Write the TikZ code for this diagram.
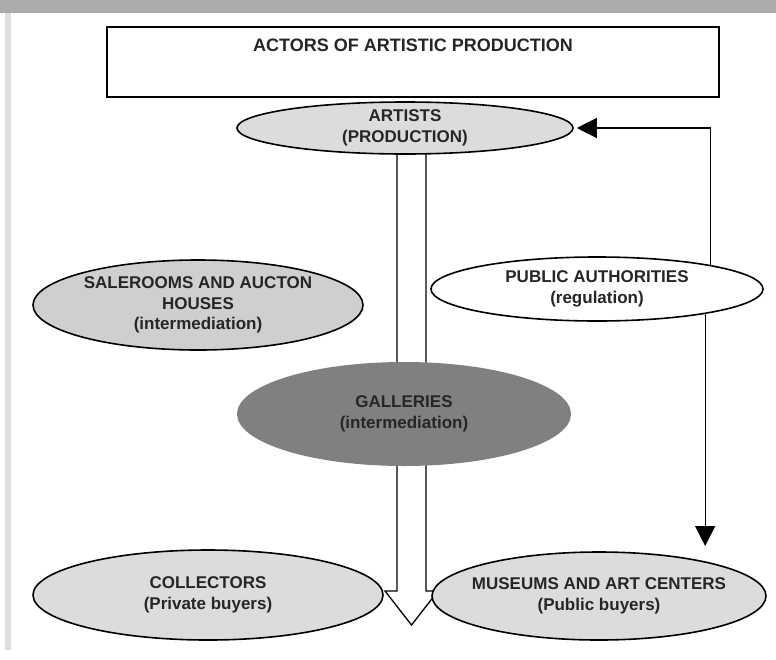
\documentclass[tikz,border=0pt]{standalone}
\usepackage{fontspec}
\setmainfont{Liberation Sans}
\usepackage{tikz}
\usetikzlibrary{arrows.meta,shapes.geometric,positioning,calc}
\definecolor{barGray}{HTML}{ABABAB}
\definecolor{sideGray}{HTML}{DEDEDE}
\definecolor{lightFill}{HTML}{DCDCDC}
\definecolor{saleFill}{HTML}{CFCFCF}
\definecolor{darkFill}{HTML}{808080}
\definecolor{txtGray}{HTML}{262626}
\tikzset{
  actor/.style={
     ellipse,
     draw=black,
     line width=1.6pt,
     fill=lightFill,
     text=txtGray,
     align=center,
     inner xsep=-200pt, inner ysep=-60pt,% size comes from minimum width/height only
     font=\bfseries\fontsize{17}{20.5}\selectfont
  },
  flow/.style={
     line width=1.3pt,
     -{Triangle[length=20pt,width=20pt]}
  },
}
\begin{document}
\begin{tikzpicture}[x=1pt,y=-1pt]
        \useasboundingbox (0,0) rectangle (776,659);
        % Page frame
        \fill[white] (0,0) rectangle (776,659);
        \fill[barGray] (0,0) rectangle (776,13);
        \fill[sideGray] (5,13) rectangle (11,650);

        % Title box
        \draw[line width=1.5pt] (107,97) -- (107,27) -- (719,27) -- (719,97);
        \draw[line width=2.5pt] (106,97) -- (720,97);
        \node[font=\bfseries\fontsize{18}{20}\selectfont, text=txtGray] (title) at (413,45) {ACTORS OF ARTISTIC PRODUCTION};

        % Hollow arrow through the galleries
        \coordinate (shaftL) at (397,140);
        \coordinate (shaftR) at (426,140);
        \coordinate (tip) at (411.5,625);
        \filldraw[fill=white, line width=1.3pt, line join=miter]
           (shaftL) -- (397,591) -- (385,591) -- (tip) -- (438,591) -- (426,591) -- (shaftR);

        % Actors
        \node[actor, minimum width=336pt, minimum height=52pt] (artists) at (405,128) {ARTISTS\\(PRODUCTION)};
        \node[actor, fill=saleFill, minimum width=330pt, minimum height=90pt] (sale) at (198,305) {SALEROOMS AND AUCTON\\HOUSES\\(intermediation)};
        \node[actor, fill=white, minimum width=332pt, minimum height=64pt] (public) at (597,289) {PUBLIC AUTHORITIES\\(regulation)};
        \node[actor, draw=none, fill=darkFill, minimum width=334pt, minimum height=104pt] (galleries) at (404,414) {GALLERIES\\(intermediation)};
        \node[actor, minimum width=350pt, minimum height=90pt] (collectors) at (208,595) {COLLECTORS\\(Private buyers)};
        \node[actor, minimum width=334pt, minimum height=88pt] (museums) at (599,596) {MUSEUMS AND ART CENTERS\\(Public buyers)};

        % Regulation arrows
        \draw[flow, shorten >=3pt] (public.12.8) |- (artists.east);
        \coordinate (downEnd) at (705,546);
        \draw[flow] (public.-13.2) -- (public.-13.2 |- downEnd);
\end{tikzpicture}
\end{document}
